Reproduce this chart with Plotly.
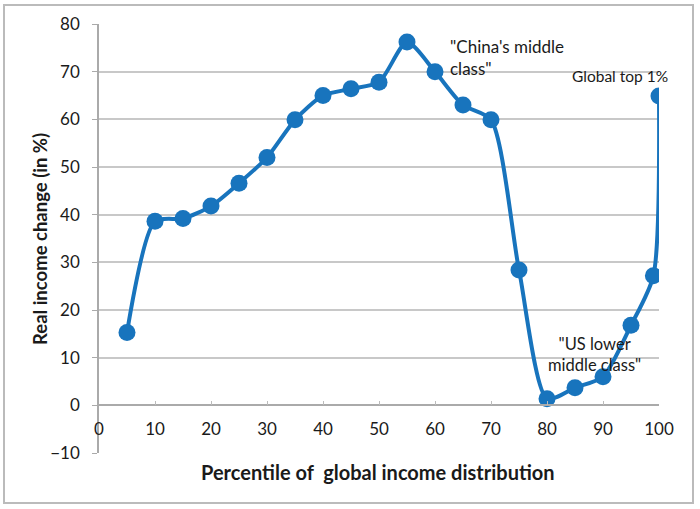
import plotly.graph_objects as go

percentiles = [5, 10, 15, 20, 25, 30, 35, 40, 45, 50, 55, 60, 65, 70, 75, 80, 85, 90, 95, 99, 100]
income_change = [15.3, 38.6, 39.2, 41.8, 46.6, 52.0, 59.9, 65.0, 66.4, 67.8, 76.2, 70.0, 63.0, 59.9, 28.4, 1.4, 3.7, 6.0, 16.8, 27.2, 64.9]
x_ticks = [0, 10, 20, 30, 40, 50, 60, 70, 80, 90, 100]
y_ticks = [-10, 0, 10, 20, 30, 40, 50, 60, 70, 80]

W, H = 700, 509
L, R, T, B = 99, 41, 24, 56
pw, ph = W - L - R, H - T - B

def px_x(p):
    return (p - L) / pw

def px_y(p):
    return (H - B - p) / ph

blue = "#1874BD"
font_family = "Lato, 'Open Sans', sans-serif"
txt = "#1a1a1a"

fig = go.Figure()
fig.add_trace(go.Scatter(
    x=percentiles, y=income_change, mode="lines+markers",
    line=dict(color=blue, width=4, shape="spline", smoothing=0.7),
    marker=dict(color=blue, size=17),
    showlegend=False, hoverinfo="skip",
))

fig.update_layout(
    width=W, height=H,
    margin=dict(l=L, r=R, t=T, b=B),
    paper_bgcolor="white", plot_bgcolor="white",
    font=dict(family=font_family, color=txt),
    xaxis=dict(
        range=[0, 100], tickvals=x_ticks, showgrid=False, zeroline=False,
        anchor="free", position=10 / 90,
        showline=True, linecolor="#aaaaaa", linewidth=1.5,
        ticks="inside", ticklen=4, tickcolor="#bbbbbb",
        ticklabelstandoff=9,
        tickfont=dict(size=17, color=txt, family=font_family),
    ),
    yaxis=dict(
        range=[-10, 80], tickvals=y_ticks, showgrid=True, gridcolor="#c8c8c8", gridwidth=1.5,
        zeroline=False, showline=True, linecolor="#aaaaaa", linewidth=1.5,
        ticks="outside", ticklen=5, tickcolor="#aaaaaa",
        ticklabelstandoff=9,
        tickfont=dict(size=17, color=txt, family=font_family),
    ),
    annotations=[
        dict(text="Percentile of  global income distribution", xref="paper", yref="paper",
             x=px_x(378), y=px_y(472), xanchor="center", yanchor="middle", showarrow=False,
             font=dict(size=20, color=txt, family=font_family, weight="bold")),
        dict(text="Real income change (in %)", xref="paper", yref="paper",
             x=px_x(40), y=px_y(239), xanchor="center", yanchor="middle", showarrow=False,
             textangle=-90,
             font=dict(size=18.5, color=txt, family=font_family, weight="bold")),
        dict(text="\"China's middle<br>class\"", xref="x", yref="y", x=62.3, y=73.0,
             xanchor="left", yanchor="middle", align="left", showarrow=False,
             font=dict(size=17, color=txt, family=font_family)),
        dict(text="Global top 1%", xref="x", yref="y", x=93.0, y=69.0,
             xanchor="center", yanchor="middle", showarrow=False,
             font=dict(size=15.5, color=txt, family=font_family)),
        dict(text="\"US lower<br>middle class\"", xref="x", yref="y", x=88.4, y=10.7,
             xanchor="center", yanchor="middle", align="center", showarrow=False,
             font=dict(size=16.5, color=txt, family=font_family)),
    ],
    shapes=[
        dict(type="rect", xref="paper", yref="paper",
             x0=px_x(4), x1=px_x(693), y0=px_y(503), y1=px_y(5),
             line=dict(color="#bbbbbb", width=2), layer="below"),
    ],
)

fig.write_html("out.html")
